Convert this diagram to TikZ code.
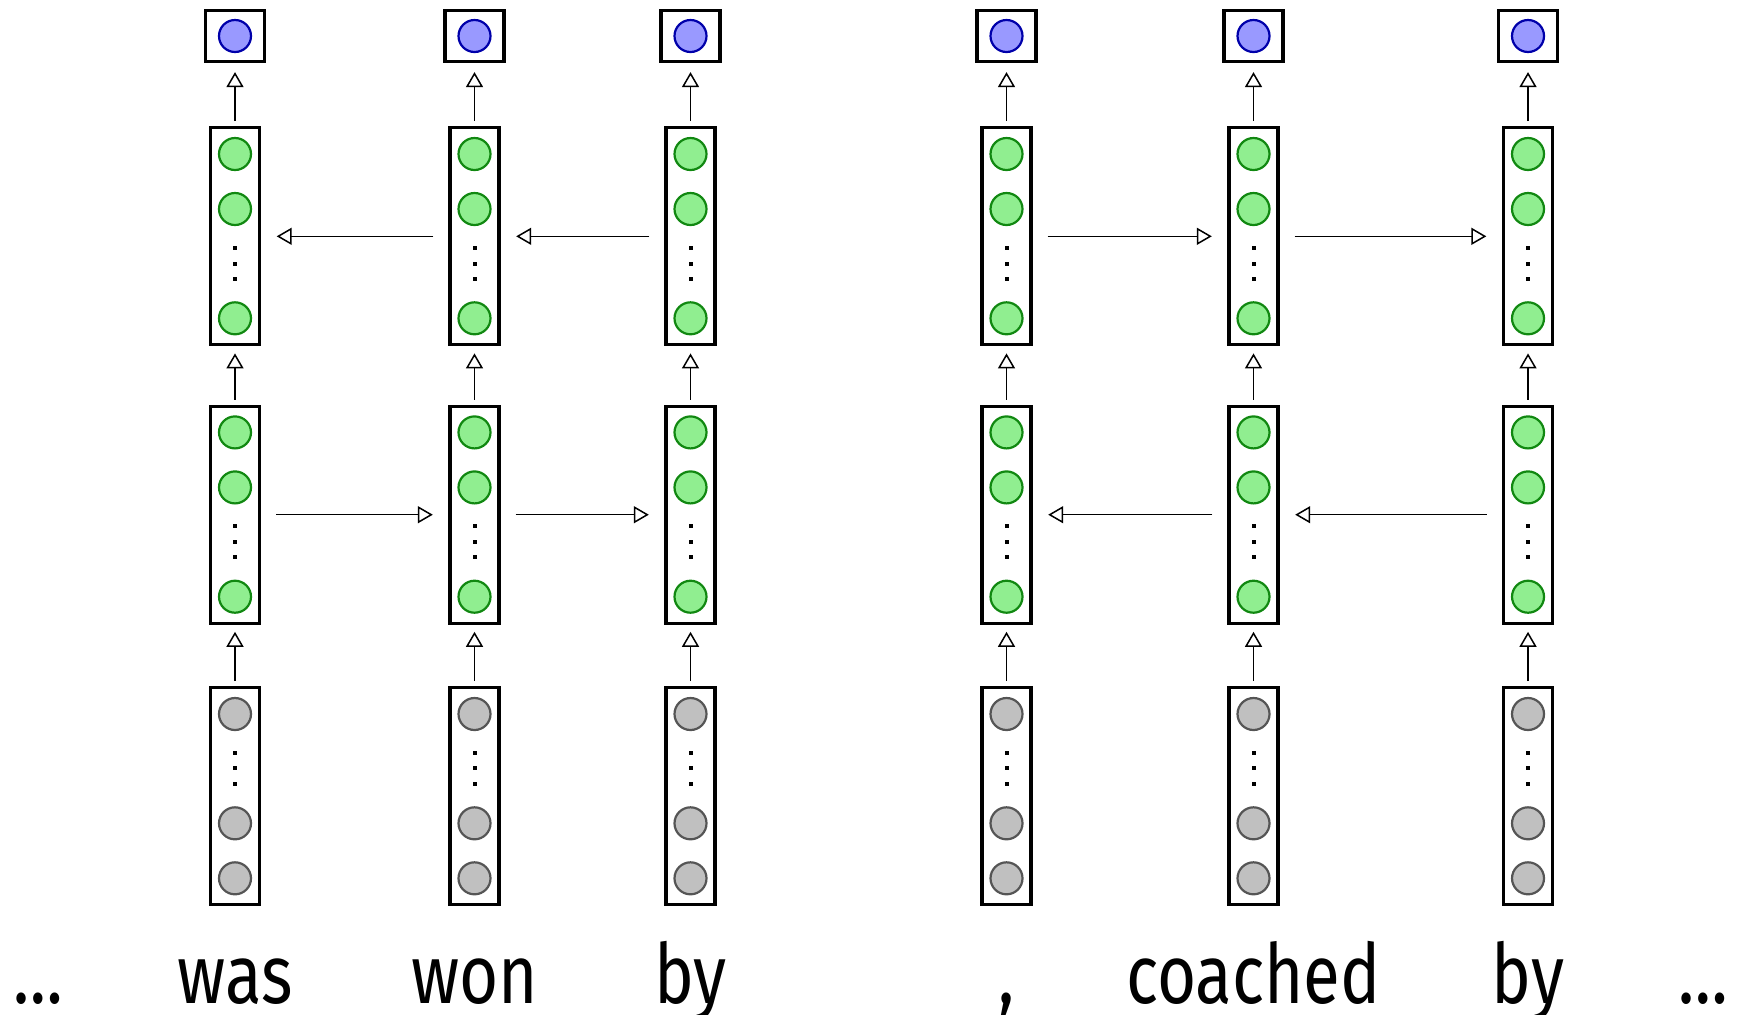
\documentclass[tikz,border=0pt]{standalone}
\usepackage{fontspec}
\setmainfont[FakeStretch=0.81]{Fira Sans}
\usetikzlibrary{arrows.meta}

\definecolor{outfill}{HTML}{9999FF}
\definecolor{outdraw}{HTML}{0000AA}
\definecolor{hidfill}{HTML}{90EE90}
\definecolor{hiddraw}{HTML}{118811}
\definecolor{embfill}{HTML}{C0C0C0}
\definecolor{embdraw}{HTML}{555555}

\tikzset{
  layer/.style={draw, line width=1.6pt, minimum width=24.5pt, minimum height=108.5pt, inner sep=0pt},
  outbox/.style={draw, line width=1.6pt, minimum width=29.5pt, minimum height=25.5pt, inner sep=0pt},
  unit/.style={circle, line width=1.1pt, minimum size=16pt, inner sep=0pt},
  conn/.style={-{Triangle[open,length=7.5pt,width=8.5pt]}, line width=0.75pt},
  word/.style={anchor=base, inner sep=0pt, font=\fontsize{41.5}{50}\selectfont}
}

\begin{document}
\begin{tikzpicture}[x=0.5pt,y=-0.5pt]
\useasboundingbox (0,0) rectangle (1743,1014);

% columns of boxes
\foreach \i/\x in {1/235,2/474.5,3/690.5,4/1006.5,5/1253.5,6/1528}
{
  \node[outbox] (out\i) at (\x,36) {};
  \node[layer] (hup\i) at (\x,236.3) {};
  \node[layer] (hlo\i) at (\x,514.7) {};
  \node[layer] (emb\i) at (\x,796.3) {};

  % output unit
  \node[unit, fill=outfill, draw=outdraw] (o\i) at (\x,36) {};

  % hidden units
  \foreach \dy [count=\k] in {-82.3,-27.3,82}
  {
    \node[unit, fill=hidfill, draw=hiddraw] (hu\i-\k) at (\x,236.3+\dy) {};
    \node[unit, fill=hidfill, draw=hiddraw] (hl\i-\k) at (\x,514.7+\dy) {};
  }
  % input units
  \foreach \dy [count=\k] in {-82.3,27,82}
  \node[unit, fill=embfill, draw=embdraw] (e\i-\k) at (\x,796.3+\dy) {};

  % dots
  \foreach \dy in {11.7,27.2,42.7}
  {
    \fill (\x-2,236.3+\dy-2) rectangle +(4,4);
    \fill (\x-2,514.7+\dy-2) rectangle +(4,4);
  }
  \foreach \dy in {-43.6,-28,-12.4}
  \fill (\x-2,796.3+\dy-2) rectangle +(4,4);

  % vertical arrows
  \draw[conn, shorten <=2.5pt, shorten >=3.5pt] (emb\i) -- (hlo\i);
  \draw[conn, shorten <=2.5pt, shorten >=3.5pt] (hlo\i) -- (hup\i);
  \draw[conn, shorten <=2.5pt, shorten >=4.5pt] (hup\i) -- (out\i);
}

% horizontal arrows
\foreach \a/\b in {1/2,2/3}
\draw[conn, shorten <=7.5pt, shorten >=7.8pt] (hlo\a) -- (hlo\b);
\foreach \a/\b in {2/1,3/2}
\draw[conn, shorten <=7.5pt, shorten >=7.8pt] (hup\a) -- (hup\b);
\foreach \a/\b in {4/5,5/6}
\draw[conn, shorten <=7.5pt, shorten >=7.8pt] (hup\a) -- (hup\b);
\foreach \a/\b in {5/4,6/5}
\draw[conn, shorten <=7.5pt, shorten >=7.8pt] (hlo\a) -- (hlo\b);

% words
\foreach \i/\x/\w in {1/235/was,2/474.5/won,3/690.5/by,4/1006.5/{,},5/1253.5/coached,6/1528/by}
\node[word] (w\i) at (\x,1003) {\w};
\node[word] (wl) at (38,1003) {…};
\node[word] (wr) at (1703,1003) {…};

\end{tikzpicture}
\end{document}
